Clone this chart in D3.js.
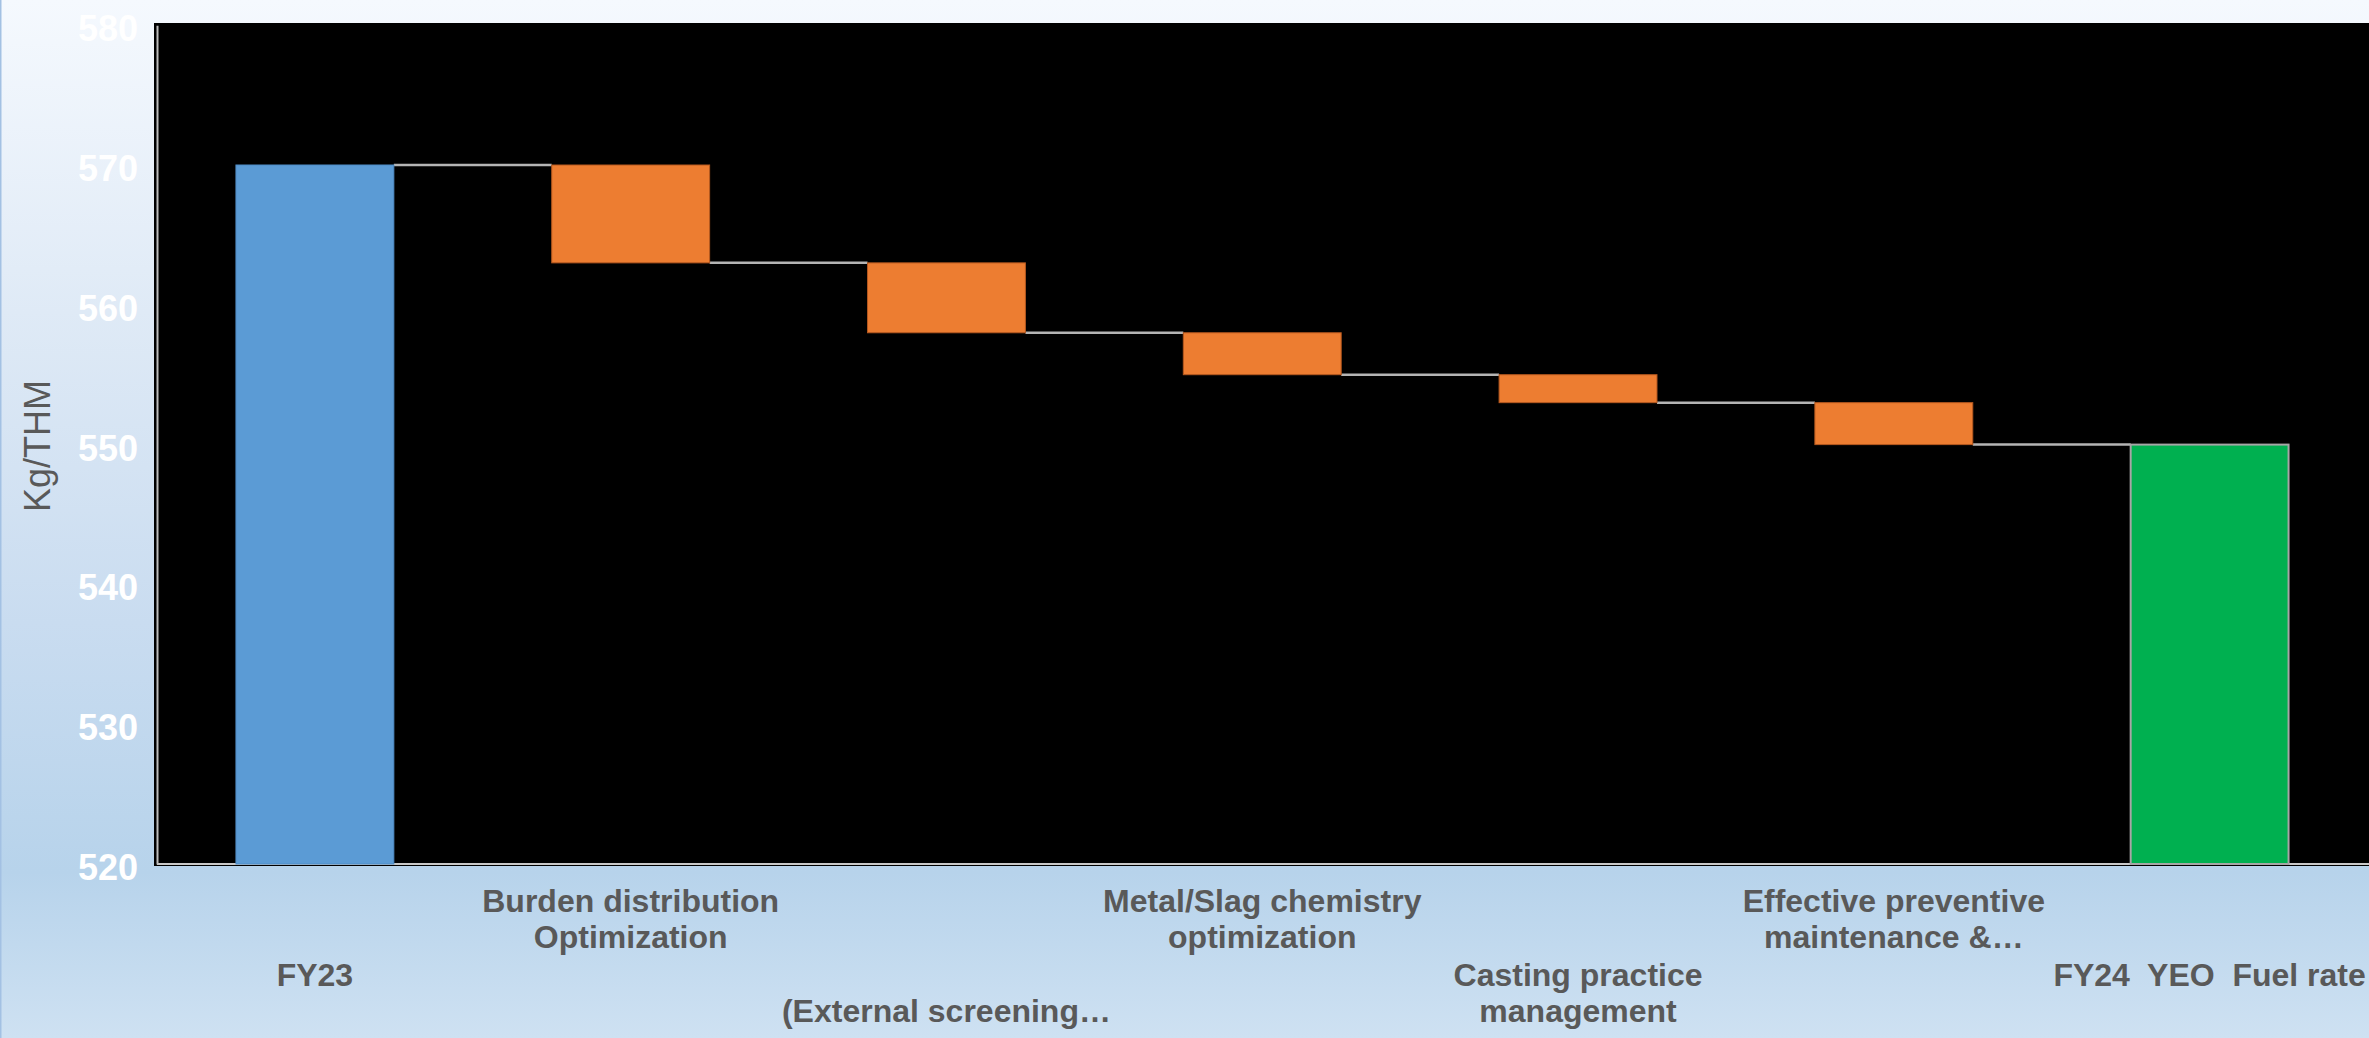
<!DOCTYPE html>
<html>
<head>
<meta charset="utf-8">
<script src="https://cdn.jsdelivr.net/npm/d3@7"></script>
<style>
html,body{margin:0;padding:0;overflow:hidden;background:#fff;}
svg{display:block;}
text{font-family:"Liberation Sans",Arial,Helvetica,sans-serif;}
</style>
</head>
<body>
<svg id="chart" width="2369" height="1038"></svg>
<script>
// ---- data ----
const categories = [
  "FY23",
  "Burden distribution\nOptimization",
  "\n(External screening\u2026",
  "Metal/Slag chemistry\noptimization",
  "Casting practice\nmanagement",
  "Effective preventive\nmaintenance &\u2026",
  "FY24  YEO  Fuel rate"
];
const barTypes = ["total", "delta", "delta", "delta", "delta", "delta", "total"];
const values = [570, -7, -5, -3, -2, -3, 550];
const yTicks = [520, 530, 540, 550, 560, 570, 580];
const yTitle = "Kg/THM";

// ---- build waterfall segments ----
let running = 0;
const bars = categories.map((c, i) => {
  let lo, hi, end;
  if (barTypes[i] === "total") {
    lo = 520; hi = values[i]; end = values[i]; running = values[i];
  } else {
    const start = running; end = running + values[i];
    lo = Math.min(start, end); hi = Math.max(start, end); running = end;
  }
  return {cat: c, i, type: barTypes[i], lo, hi, end};
});

const W = 2369, H = 1038;
const plot = {left: 157, right: 2367.5, top: 25.2, bottom: 864};
const svg = d3.select("#chart");

// background gradient
const defs = svg.append("defs");
const grad = defs.append("linearGradient").attr("id", "bg").attr("x1", 0).attr("y1", 0).attr("x2", 0).attr("y2", 1);
[[0, "#f5f9fe"], [0.3, "#dfeaf6"], [0.6, "#c9dcf0"], [0.84, "#b7d3eb"], [1, "#cee1f2"]]
  .forEach(([o, c]) => grad.append("stop").attr("offset", o).attr("stop-color", c));
svg.append("rect").attr("width", W).attr("height", H).attr("fill", "url(#bg)");
svg.append("line").attr("x1", 0.75).attr("x2", 0.75).attr("y1", 0).attr("y2", H)
  .attr("stroke", "#a3c1e3").attr("stroke-width", 1.5);

// scales
const x = d3.scaleBand().domain(categories).range([plot.left, plot.right])
  .paddingInner(0.5).paddingOuter(0.25);
const y = d3.scaleLinear().domain([520, 580]).range([plot.bottom, plot.top]);

// plot area
svg.append("rect").attr("x", 154).attr("y", 23).attr("width", W - 154).attr("height", 866 - 23)
  .attr("fill", "#000");

// baseline
svg.append("line").attr("x1", 157).attr("x2", W).attr("y1", y(520)).attr("y2", y(520))
  .attr("stroke", "#c8c8c8").attr("stroke-width", 2);

// connectors
const conn = bars.slice(0, -1).map((b, k) => ({x1: x(b.cat) + x.bandwidth(), x2: x(bars[k + 1].cat), v: b.end}));
svg.append("g").selectAll("line").data(conn).join("line")
  .attr("x1", d => d.x1).attr("x2", d => d.x2)
  .attr("y1", d => y(d.v)).attr("y2", d => y(d.v))
  .attr("stroke", "#b4b4b4").attr("stroke-width", 2.5);

// bars
const fillFor = d => d.type === "delta" ? "#ed7d31" : (d.i === 0 ? "#5b9bd5" : "#00b050");
const strokeFor = d => d.type === "delta" ? "#b5581f" : (d.i === 0 ? "#4f8cc6" : "#a6a6a6");
svg.append("g").selectAll("rect").data(bars).join("rect")
  .attr("x", d => x(d.cat)).attr("width", x.bandwidth())
  .attr("y", d => y(d.hi)).attr("height", d => y(d.lo) - y(d.hi))
  .attr("fill", fillFor).attr("stroke", strokeFor)
  .attr("stroke-width", d => d.i === 6 ? 2 : 1);

// y axis
const yAxis = svg.append("g").attr("transform", "translate(157,0)")
  .call(d3.axisLeft(y).tickValues(yTicks).tickFormat(d3.format("d")).tickSize(0).tickPadding(19));
yAxis.select(".domain").attr("stroke", "#bdbdbd").attr("stroke-width", 2);
yAxis.selectAll("text").attr("fill", "#ffffff").attr("font-size", 36).attr("font-weight", "bold")
  .attr("font-family", "'Liberation Sans', Arial, sans-serif").attr("dy", "0.43em");

// y title
svg.append("text").attr("transform", "translate(50,446) rotate(-90)")
  .attr("text-anchor", "middle").attr("fill", "#595959").attr("font-size", 36)
  .text(yTitle);

// x axis labels (staggered rows)
const xAxis = svg.append("g").attr("transform", `translate(0,${plot.bottom})`)
  .call(d3.axisBottom(x).tickSize(0));
xAxis.select(".domain").remove();
xAxis.selectAll(".tick text").each(function(d, i) {
  const t = d3.select(this);
  const lines = d.split("\n");
  const base = (i % 2 === 1) ? 48 : 122;
  t.text(null).attr("y", 0).attr("dy", null)
    .attr("fill", "#595959").attr("font-size", 32).attr("font-weight", "bold")
    .attr("font-family", "'Liberation Sans', Arial, sans-serif")
    .style("white-space", "pre");
  lines.forEach((ln, j) => {
    t.append("tspan").attr("x", 0).attr("y", base + j * 36).text(ln);
  });
});
</script>
</body>
</html>
